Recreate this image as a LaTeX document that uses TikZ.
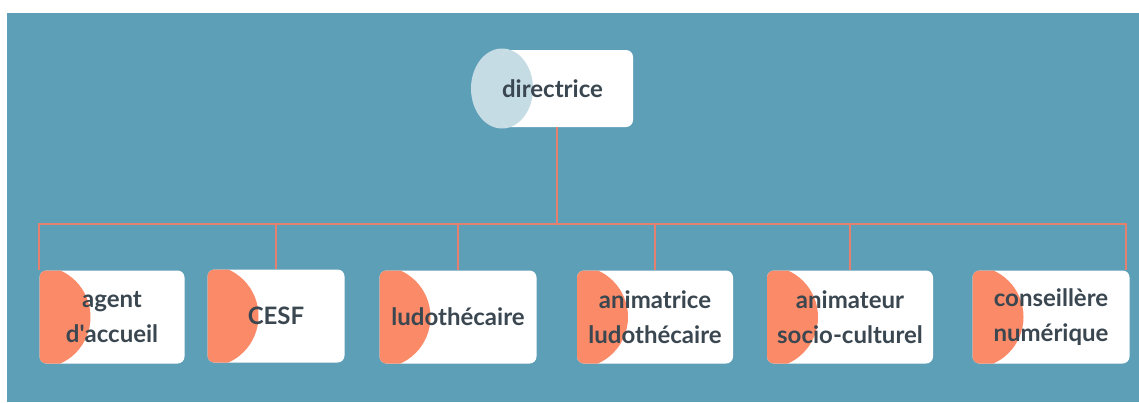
\documentclass[tikz,border=0pt]{standalone}
\usepackage{fontspec}
\setmainfont{Lato}
\usetikzlibrary{positioning}
\definecolor{bgblue}{HTML}{5E9FB8}
\definecolor{orangefill}{HTML}{FA8A68}
\definecolor{linered}{HTML}{E5806F}
\definecolor{lightcirc}{HTML}{C6DCE4}
\definecolor{txtgray}{HTML}{3A4750}

\begin{document}
\begin{tikzpicture}
  [x=1pt, y=-1pt,
   box/.style={rectangle, rounded corners=7pt, fill=white, minimum height=93pt,
     inner sep=1pt, align=center, text=txtgray,
     font=\bfseries\fontsize{24}{35}\selectfont},
   half/.style={path picture={\fill[orangefill] (path picture bounding box.west) circle (51pt);}},
   link/.style={draw=linered, line width=2.2pt}]
  \useasboundingbox (0,0) rectangle (1139,402);
  \fill[bgblue] (7,13) rectangle (1139,402);

  \fill[lightcirc] (502,88.5) ellipse (31pt and 40pt);
  \node[box, minimum width=131pt, minimum height=77pt,
    path picture={\fill[lightcirc] (path picture bounding box.west) ellipse (31pt and 40pt);}]
    (dir) at (567.5,88.5) {\hspace*{-30pt}directrice};

  \node[box, half, minimum width=145pt] (agent) at (112,317) {agent\\d\textquotesingle accueil};
  \node[box, half, minimum width=137pt] (cesf) at (276,316) {CESF};
  \node[box, half, minimum width=157pt] (ludo) at (458,317) {ludothécaire};
  \node[box, half, minimum width=156pt] (anim) at (655,317) {animatrice\\ludothécaire};
  \node[box, half, minimum width=166pt] (animsc) at (850,317) {animateur\\socio-culturel};
  \node[box, half, minimum width=157pt] (cons) at (1051,317) {conseillère\\numérique};

  \coordinate (bus) at (557,224);
  \draw[link] (dir.south -| bus) -- (bus);
  \draw[link] (agent.north west) -- (agent.north west |- bus)
    -- ([xshift=-4pt]cons.north east |- bus) -- ([xshift=-4pt]cons.north east);
  \foreach \n in {cesf,ludo,anim,animsc}
    \draw[link] (\n.north) -- (\n.north |- bus);
\end{tikzpicture}
\end{document}
